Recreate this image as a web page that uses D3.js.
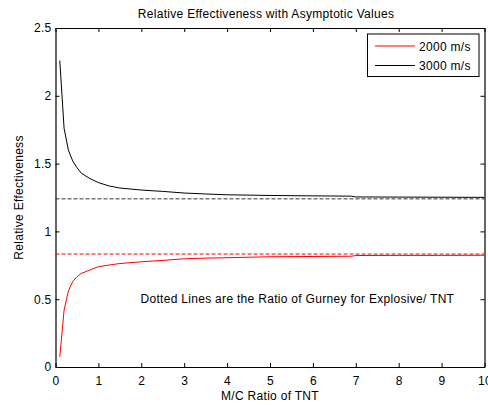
<!DOCTYPE html>
<html>
<head>
<meta charset="utf-8">
<script src="https://cdn.jsdelivr.net/npm/d3@7"></script>
<style>
  body { margin: 0; background: #fff; }
  svg text { font-family: "Liberation Sans", Arial, sans-serif; letter-spacing: 0.3px; }
</style>
</head>
<body>
<div id="chart"></div>
<script>
// mass/charge ratio samples
const ratio = [0.1, 0.2, 0.3, 0.4, 0.5, 0.6, 0.8, 1.0, 1.25, 1.5, 2.0, 2.5, 3.0, 3.5, 4.0, 5.0, 6.0, 6.9, 7.0, 8.0, 9.0, 10.0];
// relative effectiveness, 2000 m/s and 3000 m/s
const eff2000 = [0.075, 0.42, 0.56, 0.63, 0.665, 0.69, 0.715, 0.74, 0.752, 0.763, 0.776, 0.786, 0.798, 0.803, 0.806, 0.813, 0.815, 0.817, 0.822, 0.823, 0.823, 0.824];
const eff3000 = [2.26, 1.76, 1.60, 1.52, 1.47, 1.43, 1.39, 1.36, 1.335, 1.32, 1.305, 1.295, 1.283, 1.276, 1.27, 1.265, 1.262, 1.26, 1.254, 1.253, 1.252, 1.251];
// asymptotes (Gurney ratio explosive / TNT)
const asymptotes = [0.833, 1.24];
const seriesNames = ["2000 m/s", "3000 m/s"];
const seriesColors = ["#ff0000", "#000000"];
const xTicks = [0, 1, 2, 3, 4, 5, 6, 7, 8, 9, 10];
const yTicks = [0, 0.5, 1, 1.5, 2, 2.5];

const width = 488, height = 405;
const margin = { top: 28, right: 3.5, bottom: 38, left: 55.5 };
const fontSize = 12;

const svg = d3.select("#chart").append("svg")
  .attr("width", width)
  .attr("height", height);

const x = d3.scaleLinear().domain([0, 10]).range([margin.left, width - margin.right]);
const y = d3.scaleLinear().domain([0, 2.5]).range([height - margin.bottom, margin.top]);

// axes box with inward ticks
svg.append("g")
  .attr("transform", `translate(0,${height - margin.bottom})`)
  .call(d3.axisBottom(x).tickValues(xTicks).tickSizeInner(-4).tickSizeOuter(0).tickPadding(9).tickFormat(d3.format("d")));
svg.append("g")
  .attr("transform", `translate(0,${margin.top})`)
  .call(d3.axisTop(x).tickValues(xTicks).tickSizeInner(-4).tickSizeOuter(0).tickFormat(""));
svg.append("g")
  .attr("transform", `translate(${margin.left},0)`)
  .call(d3.axisLeft(y).tickValues(yTicks).tickSizeInner(-4).tickSizeOuter(0).tickPadding(4).tickFormat(d => d));
svg.append("g")
  .attr("transform", `translate(${width - margin.right},0)`)
  .call(d3.axisRight(y).tickValues(yTicks).tickSizeInner(-4).tickSizeOuter(0).tickFormat(""));

svg.selectAll(".domain").attr("stroke", "#000").attr("stroke-width", 1.2);
svg.selectAll(".tick line").attr("stroke", "#000");
svg.selectAll(".tick text").attr("font-size", fontSize).attr("fill", "#000")
  .style("font-family", "'Liberation Sans', Arial, sans-serif");

// dashed asymptote lines
svg.selectAll(".asym")
  .data(asymptotes)
  .join("line")
  .attr("class", "asym")
  .attr("x1", x(0))
  .attr("x2", x(10))
  .attr("y1", d => y(d))
  .attr("y2", d => y(d))
  .attr("stroke", (d, i) => i === 0 ? "#ff0000" : "#333")
  .attr("stroke-width", 1)
  .attr("stroke-dasharray", "4,2");

const line = d3.line()
  .x(d => x(d[0]))
  .y(d => y(d[1]));

[eff2000, eff3000].forEach((vals, i) => {
  svg.append("path")
    .datum(ratio.map((r, j) => [r, vals[j]]))
    .attr("fill", "none")
    .attr("stroke", seriesColors[i])
    .attr("stroke-width", 1)
    .attr("d", line);
});

// title + labels
svg.append("text")
  .attr("x", 266).attr("y", 18)
  .attr("text-anchor", "middle")
  .attr("font-size", fontSize)
  .text("Relative Effectiveness with Asymptotic Values");

svg.append("text")
  .attr("x", 270).attr("y", 400)
  .attr("text-anchor", "middle")
  .attr("font-size", fontSize)
  .text("M/C Ratio of TNT");

svg.append("text")
  .attr("transform", `translate(23,${(margin.top + height - margin.bottom) / 2}) rotate(-90)`)
  .attr("text-anchor", "middle")
  .attr("font-size", fontSize)
  .text("Relative Effectiveness");

svg.append("text")
  .attr("x", 140.5).attr("y", 302.5)
  .attr("font-size", fontSize)
  .text("Dotted Lines are the Ratio of Gurney for Explosive/ TNT");

// legend
const legend = svg.append("g");
legend.append("rect")
  .attr("x", 367.5).attr("y", 34)
  .attr("width", 111.5).attr("height", 42.5)
  .attr("fill", "#fff")
  .attr("stroke", "#000")
  .attr("stroke-width", 1);

const items = legend.selectAll(".item")
  .data(seriesNames)
  .join("g")
  .attr("transform", (d, i) => `translate(0,${46 + i * 19.5})`);
items.append("line")
  .attr("x1", 375).attr("x2", 415)
  .attr("stroke", (d, i) => seriesColors[i]);
items.append("text")
  .attr("x", 419).attr("y", 4.5)
  .attr("font-size", fontSize)
  .text(d => d);
</script>
</body>
</html>
